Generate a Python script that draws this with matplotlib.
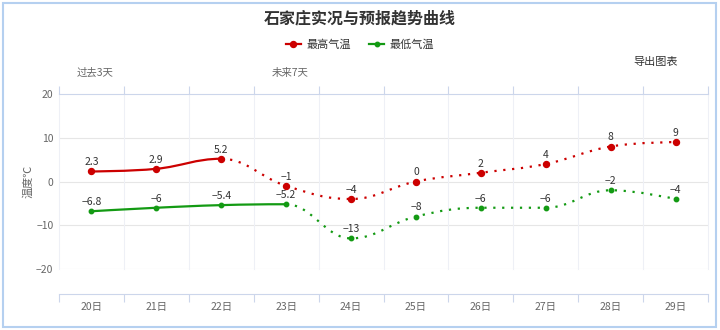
import numpy as np
import matplotlib
matplotlib.use("Agg")
import matplotlib.pyplot as plt
from matplotlib.path import Path
from matplotlib.patches import PathPatch, Rectangle
from matplotlib.lines import Line2D
from matplotlib.transforms import blended_transform_factory

plt.rcParams["font.family"] = ["Noto Sans CJK SC", "DejaVu Sans"]

# Daily temperatures (°C): 3 observed days, then 7 forecast days
days = ["20日", "21日", "22日", "23日", "24日", "25日", "26日", "27日", "28日", "29日"]
high = [2.3, 2.9, 5.2, -1, -4, 0, 2, 4, 8, 9]
low = [-6.8, -6, -5.4, -5.2, -13, -8, -6, -6, -2, -4]
high_solid_until = 2   # last index of the solid (observed) part
low_solid_until = 3
period_labels = ["过去3天", "未来7天"]
period_pos = [0, 3]

RED = "#cc0000"
GREEN = "#139a13"
AXIS_BLUE = "#ccd6eb"
GRID = "#e6e6e6"
TEXT = "#666666"


def spline_controls(xs, ys, smoothing=1.5):
    """Bezier control points for a spline through the points (left, right)."""
    n = len(xs)
    denom = smoothing + 1
    left, right = [], []
    for i in range(n):
        px, py = xs[i], ys[i]
        if i == 0 or i == n - 1:
            left.append((px, py))
            right.append((px, py))
            continue
        lx, ly = xs[i - 1], ys[i - 1]
        nx, ny = xs[i + 1], ys[i + 1]
        lcx = (smoothing * px + lx) / denom
        lcy = (smoothing * py + ly) / denom
        rcx = (smoothing * px + nx) / denom
        rcy = (smoothing * py + ny) / denom
        corr = (rcy - lcy) * (rcx - px) / (rcx - lcx) + py - rcy
        lcy += corr
        rcy += corr
        if lcy > ly and lcy > py:
            lcy = max(ly, py)
            rcy = 2 * py - lcy
        elif lcy < ly and lcy < py:
            lcy = min(ly, py)
            rcy = 2 * py - lcy
        if rcy > ny and rcy > py:
            rcy = max(ny, py)
            lcy = 2 * py - rcy
        elif rcy < ny and rcy < py:
            rcy = min(ny, py)
            lcy = 2 * py - rcy
        left.append((lcx, lcy))
        right.append((rcx, rcy))
    return left, right


def spline_path(xs, ys, start, stop):
    left, right = spline_controls(xs, ys)
    verts = [(xs[start], ys[start])]
    codes = [Path.MOVETO]
    for i in range(start + 1, stop + 1):
        verts += [right[i - 1], left[i], (xs[i], ys[i])]
        codes += [Path.CURVE4] * 3
    return Path(verts, codes)


fig = plt.figure(figsize=(7.2, 3.3), dpi=100)
ax = fig.add_axes([59 / 720, 61 / 330, 649 / 720, 175 / 330])

x = np.arange(len(days))
ax.set_xlim(-0.5, len(days) - 0.5)
ax.set_ylim(-20, 20)

# grid: horizontal value lines and vertical category boundaries
for v in [-20, -10, 0, 10]:
    ax.axhline(v, color=GRID, lw=0.8, zorder=0)
for b in np.arange(-0.5, len(days), 1.0):
    ax.axvline(b, color="#eef0f6", lw=0.8, zorder=0, clip_on=False)

for s in ["left", "right"]:
    ax.spines[s].set_visible(False)
ax.spines["top"].set_color(AXIS_BLUE)
ax.spines["top"].set_linewidth(0.8)
ax.spines["bottom"].set_color(AXIS_BLUE)
ax.spines["bottom"].set_linewidth(0.8)
ax.spines["bottom"].set_position(("outward", 18))

ax.set_xticks(x)
ax.set_xticklabels(days)
ax.set_xticks(np.arange(-0.5, len(days), 1.0), minor=True)
ax.tick_params(axis="x", which="major", length=0, pad=6, labelsize=7.5,
               labelcolor=TEXT)
ax.tick_params(axis="x", which="minor", length=6, width=0.8, color=AXIS_BLUE,
               top=True, bottom=True, direction="out")

ax.set_yticks([-20, -10, 0, 10, 20])
ax.tick_params(axis="y", length=0, pad=4, labelsize=7.5, labelcolor=TEXT)
ax.set_ylabel("温度℃", fontsize=8, color=TEXT)
ax.yaxis.set_label_coords(-0.04, 0.5)

# period captions above the top axis
trans = blended_transform_factory(ax.transData, ax.transAxes)
for lbl, pos in zip(period_labels, period_pos):
    ax.text(pos + 0.06, 1.12, lbl, transform=trans, ha="center", va="center",
            fontsize=7.5, color=TEXT)

# temperature curves: solid for observed days, dotted for the forecast
n = len(days)
for vals, color, split in [(high, RED, high_solid_until), (low, GREEN, low_solid_until)]:
    solid = PathPatch(spline_path(x, vals, 0, split), fill=False, edgecolor=color,
                      lw=1.6, zorder=3, capstyle="round")
    dotted = PathPatch(spline_path(x, vals, split, n - 1), fill=False, edgecolor=color,
                       lw=1.6, linestyle=(0, (1, 3)), zorder=3)
    ax.add_patch(solid)
    ax.add_patch(dotted)

ax.plot(x, high, linestyle="none", marker="o", ms=4.3, color=RED, zorder=4)
ax.plot(x, low, linestyle="none", marker="o", ms=3.2, color=GREEN, zorder=4)

for xs, vals in [(x, high), (x, low)]:
    for xi, v in zip(xs, vals):
        ax.annotate(f"{v:g}".replace("-", "\u2212"), (xi, v), xytext=(0, 6.5),
                    textcoords="offset points", ha="center", va="center",
                    fontsize=7.5, color="#333333", zorder=5)

# title, legend and export caption
fig.text(0.5, 1 - 18 / 330, "石家庄实况与预报趋势曲线", ha="center", va="center",
         fontsize=11.5, fontweight="bold", color="#333333")
handles = [
    Line2D([], [], color=RED, lw=1.6, marker="o", ms=4.3),
    Line2D([], [], color=GREEN, lw=1.6, marker="o", ms=3.2),
]
fig.legend(handles, ["最高气温", "最低气温"], loc="center",
           bbox_to_anchor=(0.5, 1 - 45 / 330), ncol=2, frameon=False,
           fontsize=8, handlelength=1.3, handletextpad=0.5, columnspacing=1.7,
           labelcolor="#333333")
fig.text(656 / 720, 1 - 62 / 330, "导出图表", ha="center", va="center",
         fontsize=8, color="#333333")

fig.patches.append(Rectangle((3 / 720, 3 / 330), 713 / 720, 324 / 330,
                             transform=fig.transFigure, fill=False,
                             edgecolor="#b5d0f0", lw=1.5))

fig.savefig("out.png", dpi=100)
